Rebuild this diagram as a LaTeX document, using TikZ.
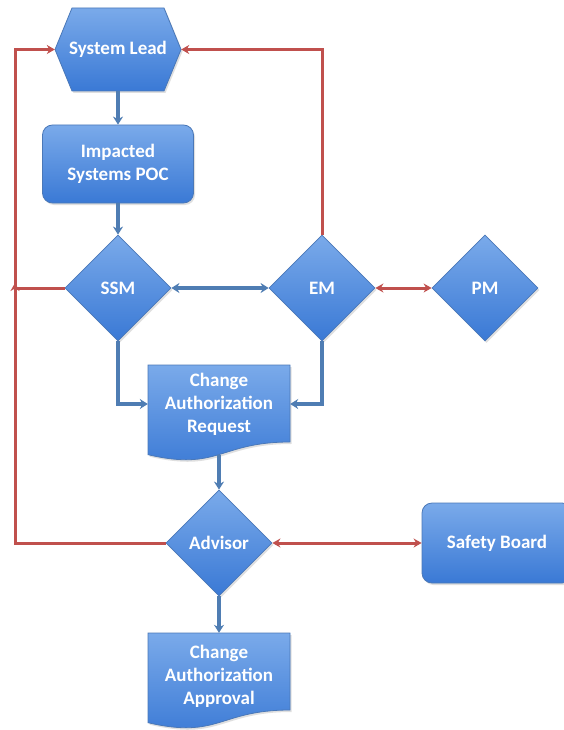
\documentclass[tikz,border=0pt]{standalone}
\usepackage{fontspec}
\setmainfont{Carlito}
\usetikzlibrary{shapes.geometric,arrows.meta,shadows}

\definecolor{boxtop}{HTML}{7AAAEA}
\definecolor{boxbot}{HTML}{3A79D5}
\definecolor{boxedge}{HTML}{4A78B8}
\definecolor{flowblue}{HTML}{4F7DB3}
\definecolor{flowred}{HTML}{C0504D}

\tikzset{
  boxfill/.style={draw=boxedge, line width=0.8pt, top color=boxtop, bottom color=boxbot,
    drop shadow={shadow xshift=1.5pt, shadow yshift=-2pt, opacity=0.25}},
  lbl/.style={text=white, font=\bfseries\fontsize{19}{23}\selectfont, align=center},
  decision/.style={diamond, aspect=1, minimum width=106pt, minimum height=106pt,
    inner sep=0pt, boxfill, lbl},
  roundbox/.style={rectangle, rounded corners=10pt, inner sep=0pt, boxfill, lbl},
  plainlbl/.style={lbl, inner sep=0pt},
  bluearr/.style={draw=flowblue, line width=3.5pt, -{Stealth[length=8pt,width=10pt]}},
  bluedbl/.style={draw=flowblue, line width=3.5pt,
    {Stealth[length=8pt,width=10pt]}-{Stealth[length=8pt,width=10pt]}},
  redarr/.style={draw=flowred, line width=3pt, -{Stealth[length=8pt,width=9pt]}},
  reddbl/.style={draw=flowred, line width=3pt,
    {Stealth[length=8pt,width=9pt]}-{Stealth[length=8pt,width=9pt]}},
}

% document shape with a wavy lower edge: left x, top y, width, height
\newcommand\docpath[4]{%
  \path[boxfill] (#1,#2) -- ({#1+#3},#2) -- ({#1+#3},{#2+0.802*#4})
    .. controls ({#1+#3/2},{#2+0.802*#4}) and ({#1+#3/2},{#2+1.107*#4})
    .. (#1,{#2+0.934*#4}) -- cycle;}

\begin{document}
\begin{tikzpicture}[x=1pt,y=-1pt]
  \clip (0,0) rectangle (564,730);
  \fill[white] (0,0) rectangle (564,730);

  % hexagon of the system lead
  \path[boxfill] (55,49.5) -- (72,8) -- (164,8) -- (181,49.5) -- (164,91) -- (72,91) -- cycle;
  \node[plainlbl, minimum width=126pt, minimum height=83pt] (sl) at (118,49.5) {System Lead};

  \node[roundbox, minimum width=151pt, minimum height=78pt] (poc) at (118,164)
    {Impacted\\Systems POC};

  \node[decision] (ssm) at (118,288) {SSM};
  \node[decision] (em)  at (322,288) {EM};
  \node[decision] (pm)  at (485,288) {PM};

  \docpath{148}{365}{142}{96}
  \node[plainlbl, minimum width=142pt, minimum height=78pt] (req) at (219,404)
    {Change\\Authorization\\Request};
  \coordinate (reqbot) at (219,455);

  \node[decision] (adv) at (219,543) {Advisor};

  \node[roundbox, minimum width=150pt, minimum height=80pt] (sb) at (497,543) {Safety Board};

  \docpath{148}{633}{142}{96}
  \node[plainlbl, minimum width=142pt, minimum height=86pt] (appr) at (219,676)
    {Change\\Authorization\\Approval};

  % blue flow
  \draw[bluearr] (sl.south) -- (poc.north);
  \draw[bluearr] (poc.south) -- (ssm.north);
  \draw[bluedbl] (ssm.east) -- (em.west);
  \draw[bluearr] (ssm.south) |- (req.west);
  \draw[bluearr] (em.south) |- (req.east);
  \draw[bluearr] (reqbot) -- (adv.north);
  \draw[bluearr] (adv.south) -- (appr.north);

  % red feedback paths
  \coordinate (railtop) at (15,49.5);
  \coordinate (railjoin) at (15,283);
  \draw[reddbl] (em.east) -- (pm.west);
  \draw[reddbl] (adv.east) -- (sb.west);
  \draw[redarr] (em.north) |- (sl.east);
  \draw[redarr] (adv.west) -| (railtop) -- (sl.west);
  \draw[redarr] (ssm.west) -| (railjoin);
\end{tikzpicture}
\end{document}
